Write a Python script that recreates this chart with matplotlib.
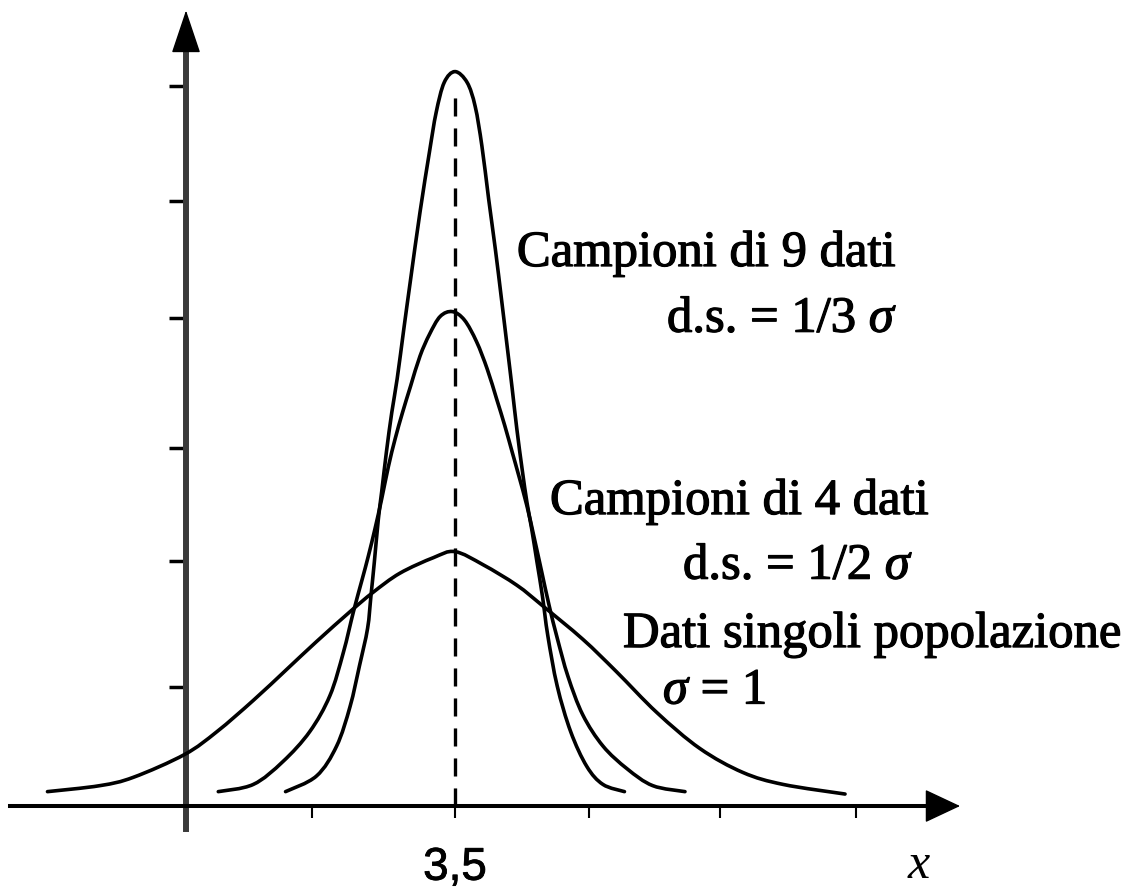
import matplotlib
matplotlib.use("Agg")
import matplotlib.pyplot as plt
from matplotlib.path import Path
from matplotlib.patches import PathPatch
import matplotlib.patheffects as pe
import numpy as np

# ---------------- data ----------------
mean_value = 3.5

# single data, population, sigma = 1
x_pop = [0.47, 0.86, 1.11, 1.49, 1.73, 2.00, 2.25, 2.47, 2.72, 2.89, 3.09, 3.34, 3.50,
         3.71, 3.96, 4.15, 4.45, 4.70, 5.00, 5.32, 5.64, 5.94, 6.40]
y_pop = [0.12, 0.17, 0.24, 0.43, 0.62, 0.88, 1.14, 1.37, 1.62, 1.78, 1.94, 2.07, 2.12,
         2.01, 1.84, 1.67, 1.39, 1.12, 0.78, 0.48, 0.28, 0.18, 0.10]

# samples of 4 data, s.d. = 1/2 sigma
x_n4 = [1.74, 2.00, 2.22, 2.42, 2.57, 2.67, 2.745, 2.81, 2.855, 2.905, 2.955, 3.005, 3.055,
        3.11, 3.17, 3.24, 3.31, 3.39, 3.48, 3.57, 3.66, 3.74, 3.81, 3.87, 3.925, 3.975,
        4.035, 4.09, 4.145, 4.20, 4.26, 4.34, 4.45, 4.60, 4.78, 4.97, 5.21]
y_n4 = [0.12, 0.18, 0.37, 0.62, 0.92, 1.28, 1.62, 1.89, 2.08, 2.31, 2.56, 2.83, 3.06,
        3.28, 3.50, 3.75, 3.93, 4.08, 4.12, 4.05, 3.87, 3.64, 3.39, 3.17, 2.95, 2.75,
        2.50, 2.23, 1.95, 1.67, 1.40, 1.08, 0.76, 0.50, 0.31, 0.17, 0.12]

# samples of 9 data, s.d. = 1/3 sigma
x_n9 = [2.24, 2.47, 2.62, 2.72, 2.79, 2.85, 2.875, 2.90, 2.93, 2.955, 2.99, 3.03, 3.07,
        3.12, 3.17, 3.24, 3.31, 3.36, 3.42, 3.50, 3.59, 3.65, 3.70, 3.75, 3.80, 3.845,
        3.89, 3.925, 3.96, 4.00, 4.035, 4.07, 4.11, 4.15, 4.19, 4.26, 4.36, 4.48, 4.60, 4.76]
y_n9 = [0.12, 0.25, 0.50, 0.83, 1.17, 1.48, 1.75, 2.03, 2.39, 2.62, 2.95, 3.28, 3.56,
        3.98, 4.39, 4.95, 5.45, 5.78, 6.03, 6.12, 6.03, 5.83, 5.50, 5.06, 4.64, 4.23,
        3.81, 3.48, 3.14, 2.80, 2.53, 2.31, 2.03, 1.75, 1.42, 1.00, 0.62, 0.33, 0.18, 0.12]

x_ticks = [2.44, 3.5, 4.5, 5.47, 6.48]
x_tick_labels = ["", "3,5", "", "", ""]
y_ticks = [0.99, 2.04, 2.98, 4.07, 5.04, 6.00]
y_axis_x = 1.5

label_n9 = ["Campioni di 9 dati", r"d.s. = 1/3 $\sigma$"]
label_n4 = ["Campioni di 4 dati", r"d.s. = 1/2 $\sigma$"]
label_pop = ["Dati singoli popolazione", r"$\sigma$ = 1"]
x_axis_label = "x"

# ---------------- style ----------------
plt.rcParams["font.family"] = ["Liberation Serif", "DejaVu Serif"]
plt.rcParams["mathtext.fontset"] = "custom"
plt.rcParams["mathtext.rm"] = "Liberation Serif"
plt.rcParams["mathtext.it"] = "Liberation Serif:italic"
plt.rcParams["lines.scale_dashes"] = False

fig = plt.figure(figsize=(11.26, 8.95), dpi=100)
ax = fig.add_axes([0, 0, 1, 1])
ax.set_xlim(0.117, 8.489)
ax.set_ylim(-0.733, 6.725)
ax.patch.set_alpha(0)


def smooth_path(xs, ys):
    pts = np.column_stack([xs, ys]).astype(float)
    n = len(pts)
    verts = [pts[0]]
    codes = [Path.MOVETO]
    for i in range(n - 1):
        p0 = pts[i - 1] if i > 0 else pts[i]
        p1 = pts[i]
        p2 = pts[i + 1]
        p3 = pts[i + 2] if i + 2 < n else pts[i + 1]
        verts += [p1 + (p2 - p0) / 6.0, p2 - (p3 - p1) / 6.0, p2]
        codes += [Path.CURVE4] * 3
    return Path(verts, codes)


for xs, ys in [(x_pop, y_pop), (x_n4, y_n4), (x_n9, y_n9)]:
    ax.add_patch(PathPatch(smooth_path(xs, ys), facecolor="none",
                           edgecolor="black", lw=2.6, capstyle="round",
                           joinstyle="round", zorder=3))

# dashed line at the mean
ax.vlines(mean_value, 0, max(y_n9) - 0.12, colors="black", lw=2.4,
          linestyles=[(0, (13, 8.6))], zorder=2)

# axes
for s in ["top", "right"]:
    ax.spines[s].set_visible(False)
ax.spines["left"].set_position(("data", y_axis_x))
ax.spines["bottom"].set_position(("data", 0))
ax.spines["left"].set_bounds(-0.19, 6.31)
ax.spines["bottom"].set_bounds(0.19, 7.02)
ax.spines["left"].set_linewidth(4.3)
ax.spines["left"].set_color("#3a3a3a")
ax.spines["bottom"].set_linewidth(2.9)
ax.spines["bottom"].set_color("black")

ax.annotate("", xy=(y_axis_x, 6.63), xytext=(y_axis_x, 6.31),
            arrowprops=dict(arrowstyle="-|>,head_length=28,head_width=9.4",
                            mutation_scale=1, color="black", lw=1,
                            shrinkA=0, shrinkB=0))
ax.annotate("", xy=(7.255, 0), xytext=(7.02, 0),
            arrowprops=dict(arrowstyle="-|>,head_length=23,head_width=10.8",
                            mutation_scale=1, color="black", lw=1,
                            shrinkA=0, shrinkB=0))

ax.set_yticks(y_ticks)
ax.tick_params(axis="y", direction="out", length=12.2, width=2.5,
               color="black", labelleft=False)
ax.set_xticks(x_ticks, x_tick_labels)
ax.tick_params(axis="x", direction="out", length=8.6, width=1.5,
               color="black", pad=20)
for t in ax.get_xticklabels():
    t.set_fontfamily("Liberation Sans")
    t.set_fontsize(33)
    t.set_path_effects([pe.withStroke(linewidth=0.6, foreground="black")])

# texts
fs = 36.5
bold_fx = [pe.withStroke(linewidth=0.9, foreground="black")]
ax.text(3.96, 4.50, label_n9[0], fontsize=fs, va="baseline", path_effects=bold_fx)
ax.text(5.076, 3.95, label_n9[1], fontsize=fs, va="baseline", path_effects=bold_fx)
ax.text(4.206, 2.433, label_n4[0], fontsize=fs, va="baseline", path_effects=bold_fx)
ax.text(5.195, 1.892, label_n4[1], fontsize=fs, va="baseline", path_effects=bold_fx)
ax.text(4.749, 1.325, label_pop[0], fontsize=fs, va="baseline", path_effects=bold_fx)
ax.text(5.046, 0.85, label_pop[1], fontsize=fs, va="baseline", path_effects=bold_fx)
ax.text(6.868, -0.592, x_axis_label, fontsize=36, style="italic", va="baseline")

fig.savefig("out.png", dpi=100, facecolor="white")
